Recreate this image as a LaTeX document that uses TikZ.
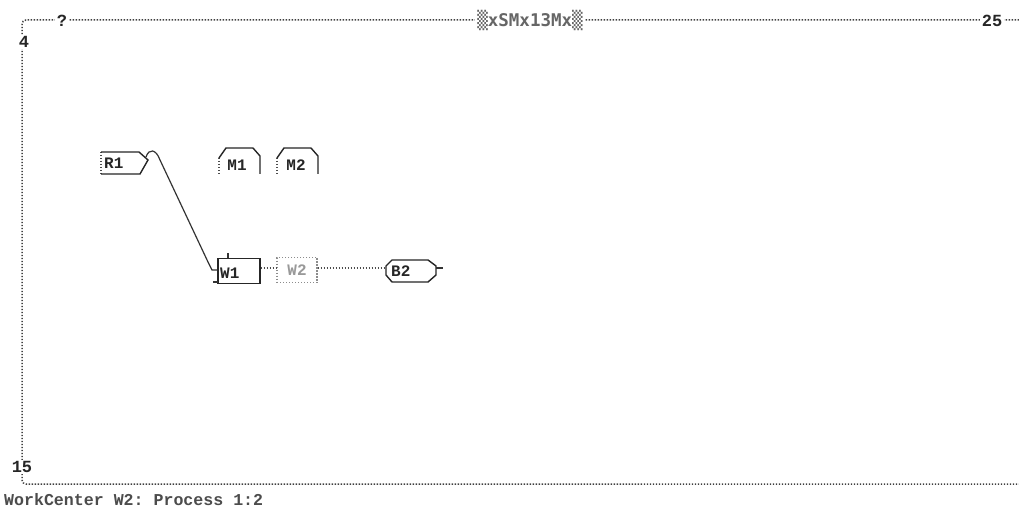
\documentclass[tikz,border=0pt]{standalone}
\usepackage{fontspec}
\setmonofont{Liberation Mono}
\newfontfamily\symfont{DejaVu Sans Mono}
\begin{document}
\begin{tikzpicture}[x=1pt,y=-1pt,
  frame/.style={draw=black!75, line width=1.5pt, dash pattern=on 1.3pt off 1.7pt},
  dotline/.style={draw=black!70, line width=1.3pt, dash pattern=on 1.2pt off 1.8pt},
  solidline/.style={draw=black!85, line width=1.4pt},
  lbl/.style={font=\ttfamily\bfseries\fontsize{17}{17}\selectfont, text=black!85, inner sep=2pt, fill=white},
  boxtxt/.style={font=\ttfamily\bfseries\fontsize{16}{16}\selectfont, text=black!85, inner sep=0pt},
  conn/.style={draw=black!80, line width=1.2pt}
]
\useasboundingbox[fill=white] (0,0) rectangle (1019,513);

% frame
\draw[frame, rounded corners=4pt] (1019,20) -- (22,20) -- (22,484) -- (1019,484);
\node[lbl] (q) at (62,21) {?};
\node[lbl, font=\symfont\bfseries\fontsize{17.5}{17.5}\selectfont, text=black!60] (title) at (530,20) {▒xSMx13Mx▒};
\node[lbl] (n25) at (992,21) {25};
\node[lbl, inner sep=1pt] (n4) at (24,42) {4};
\node[lbl, inner sep=1pt] (n15) at (22,467) {15};
\node[font=\ttfamily\bfseries\fontsize{16.6}{16.6}\selectfont, text=black!70, anchor=west, inner sep=0pt] (status) at (4,500) {WorkCenter W2: Process 1:2};

% R1 tag
\draw[dotline] (101,152) -- (101,174);
\draw[solidline] (101,152) -- (139,152) -- (148,160) -- (140,174) -- (101,174);
\node[boxtxt, anchor=west] (R1) at (104,163) {R1};
\coordinate (r1tip) at (146,157);

% M1, M2
\draw[dotline] (219,158) -- (219,174);
\draw[solidline] (219,158) -- (226,148) -- (253,148) -- (260,156) -- (260,174);
\node[boxtxt] (M1) at (237,165) {M1};
\draw[dotline] (277,158) -- (277,174);
\draw[solidline] (277,158) -- (284,148) -- (311,148) -- (318,156) -- (318,174);
\node[boxtxt] (M2) at (296,165) {M2};

% W1
\node[boxtxt, draw=black!85, line width=1.4pt, minimum width=42pt, minimum height=25pt, text depth=0pt] (W1) at (239,271) {};
\node[boxtxt, anchor=west] (W1t) at (220,273) {W1};
\draw[conn] (228,253) -- (228,258);
\draw[conn] (213,282) -- (218,282);
% W2
\node[boxtxt, draw=black!45, dash pattern=on 1.2pt off 1.8pt, line width=1.2pt, minimum width=40pt, minimum height=25pt, text=black!40] (W2) at (297,270) {W2};
% B2
\node[boxtxt, anchor=west] (B2) at (391,271) {B2};
\draw[solidline] (392,260) -- (428,260) -- (436,266) -- (436,275) -- (428,282) -- (392,282) -- (386,275) -- (386,266) -- cycle;
\coordinate (b2w) at (386,270);
\coordinate (b2e) at (436,268);
\coordinate (b2tick) at (443,268);

% connectors
\draw[conn] (r1tip) .. controls (149,148) and (156,149) .. (160,160) -- (208,262) -- (212,270) -- (W1.west |- 0,270);
\draw[dotline] (W1.east |- 0,268) -- (W2.west |- 0,268);
\draw[dotline] (W2.east |- 0,268) -- (b2w |- 0,268);
\draw[conn] (b2e) -- (b2tick);
\end{tikzpicture}
\end{document}
